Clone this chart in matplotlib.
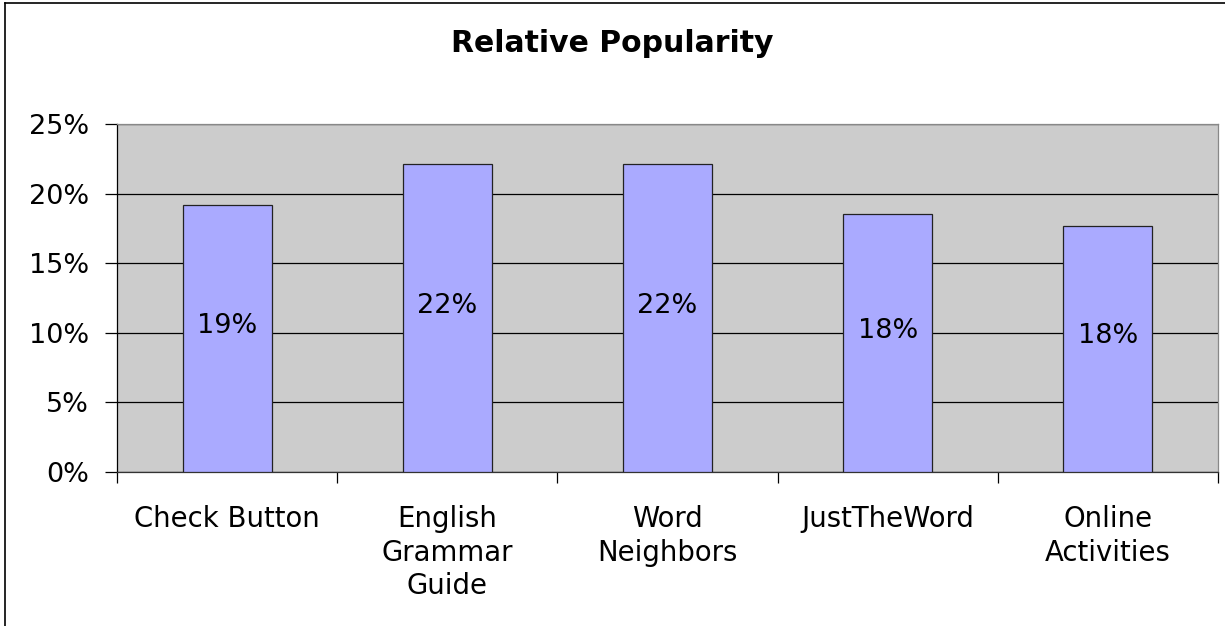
import matplotlib
matplotlib.use("Agg")
import matplotlib.pyplot as plt
from matplotlib.ticker import FixedLocator, PercentFormatter
from matplotlib.lines import Line2D

categories = ["Check Button", "English\nGrammar\nGuide", "Word\nNeighbors", "JustTheWord", "Online\nActivities"]
values = [19.2, 22.1, 22.1, 18.5, 17.7]
value_labels = ["19%", "22%", "22%", "18%", "18%"]
yticks = [0, 5, 10, 15, 20, 25]

plt.rcParams['font.family'] = ['DejaVu Sans']

fig = plt.figure(figsize=(12.25, 6.26), dpi=100)
ax = fig.add_axes([117/1225, 1-472/626, (1218-117)/1225, (472-124)/626])
ax.set_facecolor('#CCCCCC')

x = list(range(len(categories)))
ax.bar(x, values, width=0.405, color='#AAAAFF', edgecolor='#222222', linewidth=0.9, zorder=3)
for xi, v, lab in zip(x, values, value_labels):
    ax.annotate(lab, (xi, v/2), xytext=(0, 9), textcoords='offset points',
                ha='center', va='center', fontsize=19.5, zorder=4)

ax.set_xlim(-0.5, len(categories)-0.5)
ax.set_ylim(0, 25)
ax.set_yticks(yticks)
ax.yaxis.set_major_formatter(PercentFormatter(decimals=0))
ax.yaxis.grid(True, color='black', linewidth=0.9, zorder=1)
ax.set_axisbelow(True)
ax.tick_params(axis='y', length=9, width=0.9, direction='out', pad=11, labelsize=19.5)

ax.set_xticks(x)
ax.set_xticklabels(categories, fontsize=19.8, linespacing=1.25)
ax.tick_params(axis='x', which='major', length=0, pad=24)
ax.xaxis.set_minor_locator(FixedLocator([i - 0.5 for i in range(len(categories)+1)]))
ax.tick_params(axis='x', which='minor', length=8, width=0.9, direction='out')

ax.spines['left'].set_color('black')
ax.spines['bottom'].set_color('#333333')
ax.spines['top'].set_color('#888888')
ax.spines['right'].set_color('#888888')
for s in ax.spines.values():
    s.set_linewidth(0.9)

fig.text(0.5, 1-44/626, "Relative Popularity", ha='center', va='center',
         fontsize=21.5, fontweight='bold')

# figure border (left and top visible)
fig.add_artist(Line2D([4.5/1225, 4.5/1225], [0, 1-2.5/626], color='black', linewidth=1.2))
fig.add_artist(Line2D([4.5/1225, 1], [1-2.5/626, 1-2.5/626], color='black', linewidth=1.2))

fig.savefig("out.png", dpi=100)
